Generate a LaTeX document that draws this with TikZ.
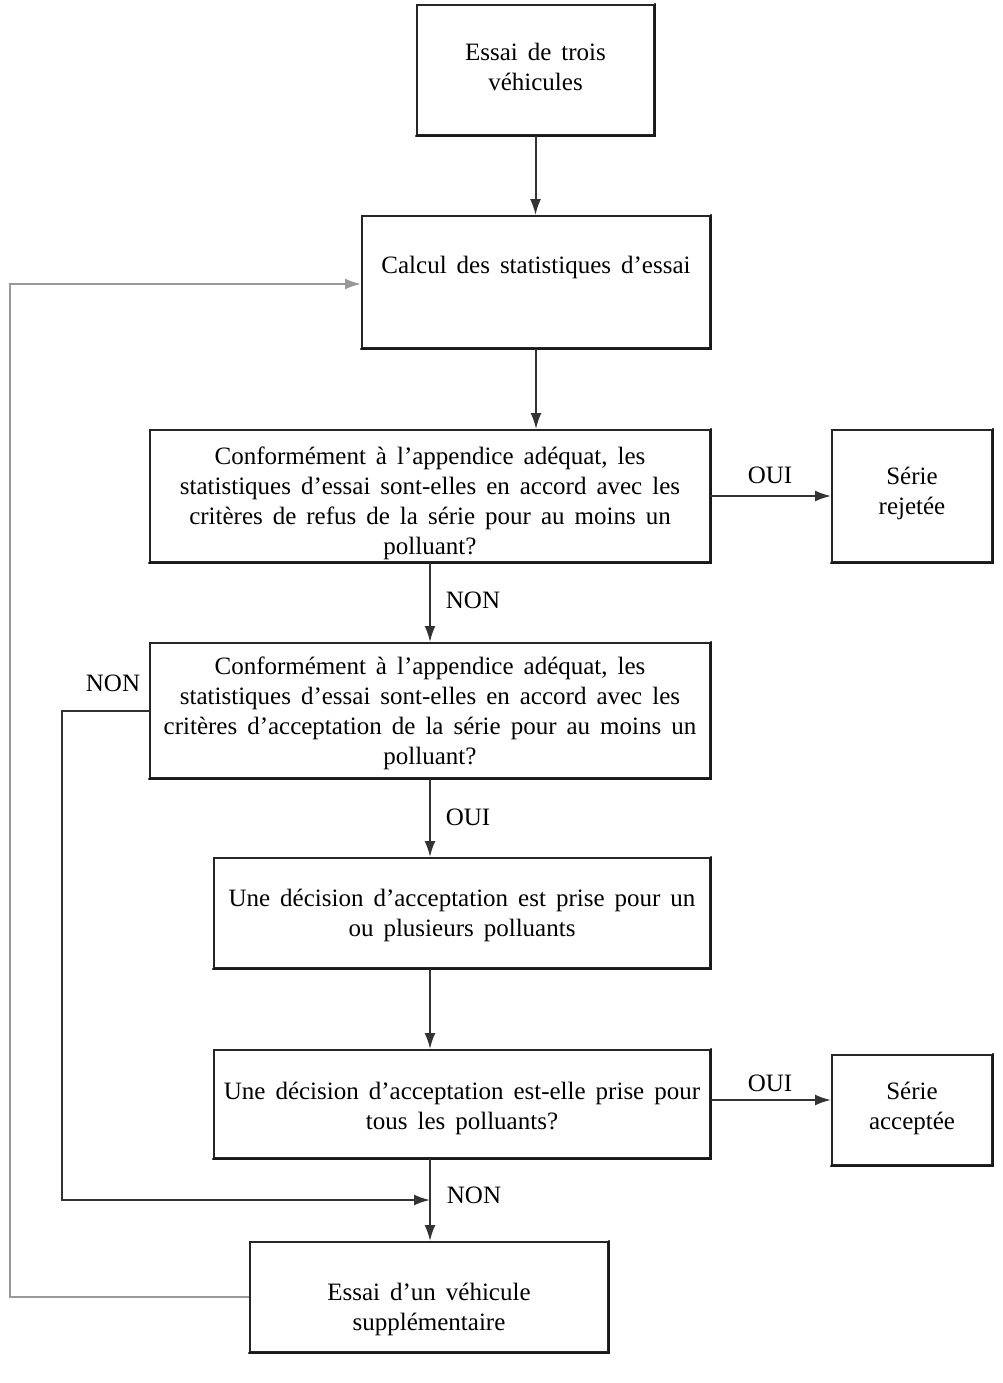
\documentclass[tikz,border=0pt]{standalone}
\usepackage{fontspec}
\setmainfont{Liberation Serif}
\usetikzlibrary{arrows.meta}
\newcommand\myboxfont{\fontsize{25}{30}\selectfont\spaceskip 0.4em plus 0.1em\relax}
\begin{document}
\begin{tikzpicture}[x=1pt,y=-1pt,
  box/.style={draw=black!85, line width=2pt, align=center, inner sep=0pt,
    font=\myboxfont},
  tb/.style 2 args={text height=#1pt, text depth=#2pt},
  edge/.style={draw=black!90, line width=2.4pt, line cap=round},
  arr/.style={-{Latex[length=16pt,width=11pt]}, line width=2pt, draw=black!80},
  lab/.style={font=\fontsize{25}{26}\selectfont, inner sep=0pt}]
\useasboundingbox (0,0) rectangle (1002,1383);
\node[box, tb={42}{0}, minimum width=237pt, minimum height=130pt] (b1) at (535.5,70) {Essai de trois\\véhicules};
\node[box, tb={0}{18}, minimum width=348pt, minimum height=132pt] (b2) at (536,282) {Calcul des statistiques d’essai};
\node[box, tb={116}{0}, minimum width=560pt, minimum height=132pt] (b3) at (430,496) {Conformément à l’appendice adéquat, les\\statistiques d’essai sont-elles en accord avec les\\critères de refus de la série pour au moins un\\polluant?};
\node[box, tb={36}{0}, minimum width=160pt, minimum height=132pt] (b4) at (912,496) {Série\\rejetée};
\node[box, tb={107}{0}, minimum width=560pt, minimum height=135pt] (b5) at (430,710.5) {Conformément à l’appendice adéquat, les\\statistiques d’essai sont-elles en accord avec les\\critères d’acceptation de la série pour au moins un\\polluant?};
\node[box, tb={46}{0}, minimum width=496pt, minimum height=110pt] (b6) at (462,913) {Une décision d’acceptation est prise pour un\\ou plusieurs polluants};
\node[box, tb={50}{0}, minimum width=496pt, minimum height=108pt] (b7) at (462,1104) {Une décision d’acceptation est-elle prise pour\\tous les polluants?};
\node[box, tb={38}{0}, minimum width=160pt, minimum height=110pt] (b8) at (912,1110) {Série\\acceptée};
\node[box, tb={66}{0}, minimum width=358pt, minimum height=110pt] (b9) at (429,1297) {Essai d’un véhicule\\supplémentaire};
% heavier bottom/right edges
\foreach \b in {b1,b2,b3,b4,b5,b6,b7,b8,b9}
  \draw[edge] (\b.south west) -- (\b.south east) -- (\b.north east);
% labels
\node[lab] (l1) at (770,475) {OUI};
\node[lab] (l2) at (473,600) {NON};
\node[lab] (l3) at (468,817) {OUI};
\node[lab] (l4) at (770,1083) {OUI};
\node[lab] (l5) at (474,1195) {NON};
\node[lab] (l6) at (113,683) {NON};
% coordinates
\coordinate (c1) at (430,0);
\coordinate (lp) at (62,1200);
\coordinate (lm) at (430,1200);
\coordinate (gt) at (10,284);
% arrows
\draw[arr] (b1.south) -- (b1.south |- b2.north);
\draw[arr] (b2.south) -- (b2.south |- b3.north);
\draw[arr] (b3.east) -- (b3.east -| b4.west);
\draw[arr] (b3.south) -- (b5.north);
\draw[arr] (b5.south) -- (b5.south |- b6.north);
\draw[arr] (c1 |- b6.south) -- (c1 |- b7.north);
\draw[arr] ([yshift=4pt]b7.east) -- ([yshift=4pt]b7.east -| b8.west);
\draw[arr] (c1 |- b7.south) -- (c1 |- b9.north);
\draw[arr] (b5.west) -| (lp) -- (lm);
\draw[arr, draw=black!40] (b9.west) -| (gt) -- (gt -| b2.west);
\end{tikzpicture}
\end{document}
